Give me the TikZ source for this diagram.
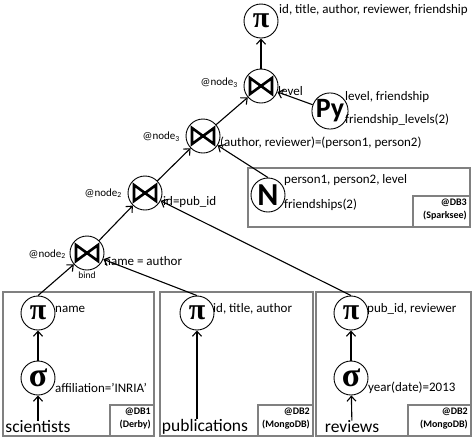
\documentclass[tikz,border=0pt]{standalone}
\usepackage{fontspec}
\setmainfont{Carlito}
\newfontfamily\grkfont{Liberation Serif}
\usepackage{tikz}
\usetikzlibrary{positioning,arrows.meta,calc}

\tikzset{
  op/.style={draw,circle,minimum size=34pt,inner sep=0pt,line width=0.9pt},
  joinop/.style={op,path picture={
      \draw[line width=2.6pt,line join=miter]
        ([shift={(-11pt,-8pt)}]path picture bounding box.center) --
        ([shift={(11pt,8pt)}]path picture bounding box.center) --
        ([shift={(11pt,-8pt)}]path picture bounding box.center) --
        ([shift={(-11pt,8pt)}]path picture bounding box.center) -- cycle;}},
  lbl/.style={anchor=west,inner sep=0pt,font=\fontsize{13}{15}\selectfont},
  site/.style={anchor=east,inner sep=0pt,font=\fontsize{11}{12}\selectfont},
  srcname/.style={inner sep=0pt,font=\fontsize{17.5}{20}\selectfont},
  dbtag/.style={anchor=north east,align=right,inner sep=0pt,font=\fontsize{10}{13}\selectfont\bfseries},
  srcbox/.style={draw=gray,line width=1.4pt},
  flow/.style={-{Straight Barb[length=5pt,width=9pt]},line width=1.1pt}
}
\newcommand{\pisym}{{\grkfont\bfseries\fontsize{30}{30}\selectfont π}}
\newcommand{\sigsym}{{\grkfont\bfseries\fontsize{34}{34}\selectfont\raisebox{1pt}{σ}}}

\begin{document}
\begin{tikzpicture}[x=1pt,y=-1pt]
    \useasboundingbox (0,0) rectangle (473,437);

    % Sources
    \draw[srcbox] (3,292) rectangle (154,436);
    \draw[srcbox] (110,405) rectangle (154,436);
    \draw[srcbox] (160,292) rectangle (313,436);
    \draw[srcbox] (258,405) rectangle (313,436);
    \draw[srcbox] (316,292) rectangle (471,436);
    \draw[srcbox] (408,405) rectangle (471,436);
    \draw[srcbox] (248,168) rectangle (470,227);
    \draw[srcbox] (413,196) rectangle (470,227);

    \node[dbtag] (db1) at (151,408) {@DB1\\(Derby)};
    \node[dbtag] (db2) at (310,408) {@DB2\\(MongoDB)};
    \node[dbtag] (db2b) at (468,408) {@DB2\\(MongoDB)};
    \node[dbtag] (db3) at (467,199) {@DB3\\(Sparksee)};

    % scientists
    \node[srcname] (sci) at (38,427) {scientists};
    \node[op] (s1) at (38,378) {\sigsym};
    \node[op] (p1) at (38,313) {\pisym};
    \node[lbl] (p1l) at (55,309) {name};
    \node[lbl] (s1l) at (55,388) {affiliation='INRIA'};
    \draw[flow] (sci) -- (s1);
    \draw[flow] (s1) -- (p1);

    % publications
    \node[srcname] (pub) at (205,427) {publications};
    \node[op] (p2) at (197,313) {\pisym};
    \node[lbl] (p2l) at (213,309) {id, title, author};
    \draw[flow] (pub.north -| p2) -- (p2);

    % reviews
    \node[srcname] (rev) at (352,427) {reviews};
    \node[op] (s3) at (351,378) {\sigsym};
    \node[op] (p3) at (351,313) {\pisym};
    \node[lbl] (p3l) at (367,309) {pub\_id, reviewer};
    \node[lbl] (s3l) at (368,388) {year(date)=2013};
    \draw[flow] (rev) -- (s3);
    \draw[flow] (s3) -- (p3);

    % friendships
    \node[op] (n) at (268,195) {\fontsize{32}{32}\selectfont\bfseries N};
    \node[lbl] (nl1) at (284,180) {person1, person2, level};
    \node[lbl] (nl2) at (284,205) {friendships(2)};

    % joins
    \node[joinop] (j4) at (87,253) {};
    \node[site] (j4s) at (66,254) {@node\textsubscript{2}};
    \node[lbl] (j4l) at (104,261) {name = author};
    \node[inner sep=0pt,font=\fontsize{9.5}{10}\selectfont] (bind) at (87,275) {bind};

    \node[joinop] (j3) at (145,193) {};
    \node[site] (j3s) at (122,193) {@node\textsubscript{2}};
    \node[lbl] (j3l) at (163,202) {id=pub\_id};

    \node[joinop] (j2) at (203,136) {};
    \node[site] (j2s) at (180,137) {@node\textsubscript{3}};
    \node[lbl] (j2l) at (220,143) {(author, reviewer)=(person1, person2)};

    \node[joinop] (j1) at (261,86) {};
    \node[site] (j1s) at (238,83) {@node\textsubscript{3}};
    \node[lbl] (j1l) at (278,91) {level};

    % python
    \node[op] (py) at (330,111) {\fontsize{28}{28}\selectfont\bfseries Py};
    \node[lbl] (pyl1) at (345,97) {level, friendship};
    \node[lbl] (pyl2) at (345,120) {friendship\_levels(2)};

    % top projection
    \node[op] (tp) at (261,21) {\pisym};
    \node[lbl] (tpl) at (279,10) {id, title, author, reviewer, friendship};

    % edges
    \draw[flow] (p1.north) -- (j4);
    \draw[flow] (p2.north) -- (j4);
    \draw[flow] (j4) -- (j3);
    \draw[flow] (p3.north) -- (j3);
    \draw[flow] (j3) -- (j2);
    \draw[flow] (n.north) -- (j2);
    \draw[flow] (j2) -- (j1);
    \draw[flow] (py) -- (j1);
    \draw[flow] (j1) -- (tp);
\end{tikzpicture}
\end{document}
